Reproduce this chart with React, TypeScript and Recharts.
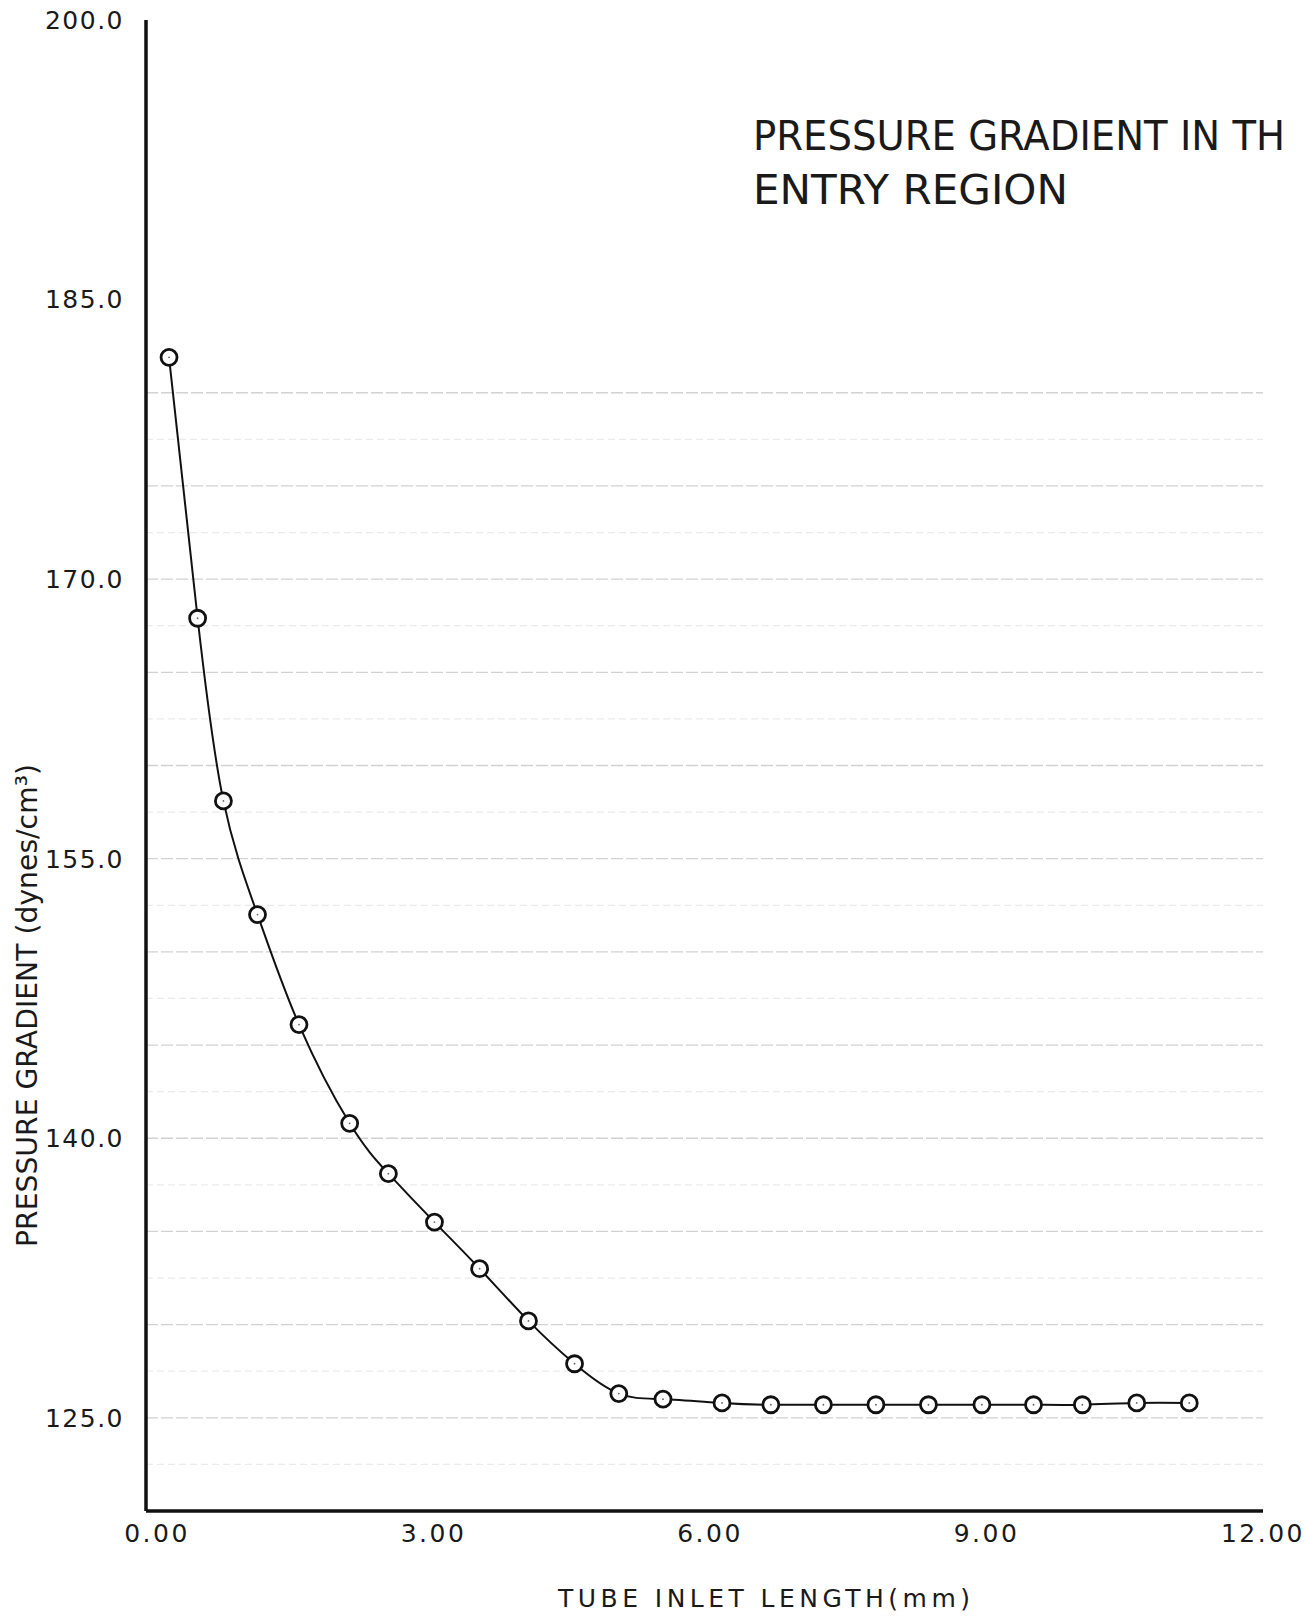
import React from 'react';
import {
  LineChart,
  Line,
  XAxis,
  YAxis,
  ReferenceLine,
  Customized,
} from 'recharts';

// tube inlet length (mm) and measured pressure gradient (dynes/cm³)
const inletLength = [
  0.13, 0.44, 0.72, 1.09, 1.54, 2.09, 2.51, 3.01, 3.5, 4.03, 4.53, 5.01,
  5.49, 6.13, 6.66, 7.23, 7.8, 8.37, 8.95, 9.51, 10.04, 10.63, 11.2,
];
const pressureGradient = [
  181.9, 167.9, 158.1, 152.0, 146.1, 140.8, 138.1, 135.5, 133.0, 130.2,
  127.9, 126.3, 126.0, 125.8, 125.7, 125.7, 125.7, 125.7, 125.7, 125.7,
  125.7, 125.8, 125.8,
];

const xTicks = [0, 3, 6, 9, 12];
const yTicks = [125, 140, 155, 170, 185, 200];

// ruled lines of the notebook paper
const paperMajor = [125, 130, 135, 140, 145, 150, 155, 160, 165, 170, 175, 180];
const paperMinor = [122.5, 127.5, 132.5, 137.5, 142.5, 147.5, 152.5, 157.5, 162.5, 167.5, 172.5, 177.5];

const data = inletLength.map((x, i) => ({ x, y: pressureGradient[i] }));

const FONT = "'DejaVu Sans', sans-serif";
const INK = '#1a1a1a';

const OpenCircle = (props: any) => {
  const { cx, cy, index } = props;
  if (cx == null || cy == null) return null;
  return (
    <g key={`pt-${index}`}>
      <circle cx={cx} cy={cy} r={8} fill="#fff" stroke="#111" strokeWidth={2.8} />
      <circle cx={cx} cy={cy} r={0.9} fill="#666" />
    </g>
  );
};

const Annotations = () => (
  <g fontFamily={FONT} fill={INK}>
    <text x={753} y={150} fontSize={40} textLength={532} lengthAdjust="spacingAndGlyphs">
      PRESSURE GRADIENT IN TH
    </text>
    <text x={753} y={204} fontSize={40} textLength={315} lengthAdjust="spacingAndGlyphs">
      ENTRY REGION
    </text>
    <text
      x={37}
      y={1247}
      fontSize={29}
      textLength={483}
      lengthAdjust="spacingAndGlyphs"
      transform="rotate(-90 37 1247)"
    >
      PRESSURE GRADIENT (dynes/cm³)
    </text>
    <text x={558} y={1607} fontSize={25} textLength={412} lengthAdjust="spacing">
      TUBE INLET LENGTH(mm)
    </text>
  </g>
);

export default function App() {
  return (
    <div
      style={{
        position: 'absolute',
        left: 0,
        top: 0,
        width: 1306,
        height: 1623,
        overflow: 'hidden',
        background: '#fff',
      }}
    >
      <LineChart
        width={1306}
        height={1623}
        data={data}
        margin={{ top: 20, right: 43, bottom: 0, left: 0 }}
      >
        {paperMinor.map((v) => (
          <ReferenceLine key={`mn-${v}`} y={v} stroke="#ebebeb" strokeWidth={1.2} strokeDasharray="7 4" />
        ))}
        {paperMajor.map((v) => (
          <ReferenceLine key={`mj-${v}`} y={v} stroke="#d2d2d2" strokeWidth={1.3} strokeDasharray="12 3" />
        ))}
        <XAxis
          type="number"
          dataKey="x"
          domain={[-0.12, 12]}
          ticks={xTicks}
          tickFormatter={(v: number) => v.toFixed(2)}
          height={112}
          tickLine={false}
          tickSize={0}
          tickMargin={13}
          axisLine={{ stroke: '#111', strokeWidth: 3.5 }}
          tick={{ fontSize: 25, fill: INK, fontFamily: FONT, letterSpacing: 2.5 }}
        />
        <YAxis
          type="number"
          dataKey="y"
          domain={[120, 200]}
          ticks={yTicks}
          tickFormatter={(v: number) => v.toFixed(1)}
          width={146}
          tickLine={false}
          tickSize={0}
          tickMargin={22}
          axisLine={{ stroke: '#111', strokeWidth: 3.5 }}
          tick={{ fontSize: 25, fill: INK, fontFamily: FONT, letterSpacing: 1.5 }}
        />
        <Line
          type="natural"
          dataKey="y"
          stroke="#111"
          strokeWidth={2}
          dot={<OpenCircle />}
          activeDot={false}
          isAnimationActive={false}
        />
        <Customized component={Annotations} />
      </LineChart>
    </div>
  );
}
